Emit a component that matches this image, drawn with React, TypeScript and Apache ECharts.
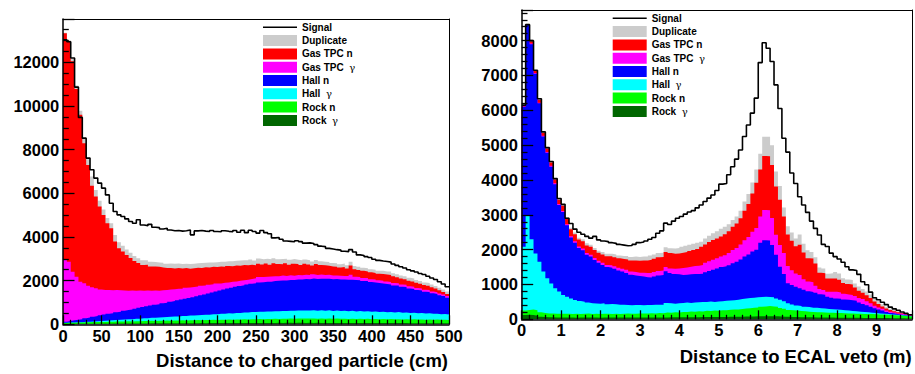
import React, { useEffect, useRef } from "react";
import * as echarts from "echarts";

// ---------- data: left panel (100 bins of 5 cm, 0–500 cm) ----------
const leftBinWidth = 5;
const leftRockGamma = [
  15, 18, 21, 20, 24, 25, 27, 26, 29, 30,
  31, 30, 33, 35, 34, 37, 38, 37, 40, 41,
  42, 41, 44, 45, 44, 47, 46, 48, 49, 50,
  49, 51, 52, 51, 53, 54, 53, 56, 55, 57,
  56, 58, 59, 57, 60, 61, 59, 62, 61, 63,
  62, 64, 63, 65, 64, 66, 65, 66, 67, 65,
  67, 66, 65, 66, 64, 66, 65, 63, 65, 63,
  64, 62, 63, 61, 62, 60, 61, 59, 60, 58,
  59, 57, 58, 56, 57, 55, 56, 54, 54, 52,
  53, 51, 51, 49, 50, 48, 48, 47, 46, 45,
];
const leftRockN = [
  45, 52, 50, 61, 58, 68, 66, 75, 71, 80,
  78, 88, 83, 90, 94, 89, 99, 95, 104, 100,
  110, 106, 116, 111, 119, 114, 124, 118, 128, 122,
  131, 126, 136, 130, 140, 134, 145, 137, 150, 141,
  152, 146, 157, 150, 162, 155, 168, 160, 172, 165,
  178, 170, 183, 175, 188, 180, 193, 186, 197, 190,
  203, 195, 206, 198, 204, 193, 205, 191, 200, 190,
  198, 187, 195, 186, 193, 181, 192, 180, 189, 177,
  186, 176, 184, 173, 182, 171, 180, 170, 178, 168,
  176, 166, 174, 163, 172, 161, 170, 160, 166, 155,
];
const leftHallGamma = [
  8, 10, 14, 18, 15, 20, 28, 32, 40, 45,
  55, 60, 66, 72, 80, 92, 98, 104, 110, 115,
  120, 128, 135, 140, 150, 158, 162, 175, 180, 185,
  195, 200, 212, 218, 225, 235, 240, 248, 256, 262,
  270, 278, 285, 290, 300, 305, 312, 318, 325, 330,
  335, 342, 338, 350, 345, 355, 350, 362, 355, 365,
  358, 370, 362, 368, 375, 360, 372, 365, 378, 362,
  370, 358, 368, 355, 365, 350, 360, 345, 352, 340,
  345, 335, 338, 325, 330, 318, 322, 310, 312, 300,
  302, 290, 292, 280, 282, 270, 268, 258, 255, 245,
];
const leftHallN = [
  50, 70, 95, 112, 135, 165, 185, 210, 235, 260,
  285, 310, 325, 355, 370, 400, 415, 445, 460, 500,
  520, 550, 565, 600, 610, 645, 660, 695, 710, 745,
  760, 795, 810, 845, 865, 905, 925, 970, 995, 1045,
  1075, 1115, 1135, 1175, 1195, 1235, 1245, 1280, 1295, 1325,
  1345, 1350, 1370, 1365, 1385, 1390, 1400, 1395, 1415, 1410,
  1425, 1420, 1440, 1435, 1455, 1460, 1450, 1470, 1445, 1455,
  1440, 1450, 1430, 1445, 1425, 1440, 1410, 1400, 1385, 1360,
  1330, 1320, 1295, 1290, 1260, 1235, 1215, 1185, 1160, 1125,
  1090, 1065, 1035, 1005, 975, 940, 905, 870, 825, 775,
];
const leftGasGamma = [
  2832, 2720, 2231, 1967, 1720, 1602, 1456, 1355, 1276, 1185,
  1122, 1085, 1059, 1023, 986, 928, 885, 863, 821, 790,
  743, 719, 675, 650, 611, 602, 578, 559, 534, 523,
  499, 499, 475, 470, 448, 437, 416, 405, 374, 361,
  322, 308, 285, 277, 248, 240, 230, 225, 221, 223,
  245, 238, 230, 235, 222, 215, 225, 208, 212, 200,
  205, 195, 200, 188, 192, 180, 186, 175, 178, 170,
  165, 170, 160, 168, 230, 150, 145, 140, 135, 130,
  128, 125, 120, 118, 115, 112, 110, 108, 105, 100,
  98, 95, 92, 90, 88, 85, 82, 80, 78, 75,
];
const leftGasN = [
  10390, 10090, 9640, 8600, 7650, 6420, 5540, 4650, 4200, 3800,
  3440, 3060, 2830, 2220, 1920, 1790, 1640, 1490, 1360, 1260,
  1180, 1180, 1110, 1100, 1100, 1040, 1005, 980, 955, 960,
  920, 905, 860, 850, 865, 820, 835, 790, 805, 760,
  770, 730, 755, 715, 730, 690, 700, 660, 660, 600,
  615, 575, 605, 540, 595, 555, 515, 575, 485, 540,
  505, 475, 505, 485, 410, 500, 445, 445, 415, 410,
  405, 375, 405, 345, 425, 340, 315, 325, 300, 315,
  305, 305, 305, 320, 320, 310, 270, 275, 250, 255,
  240, 235, 215, 210, 195, 195, 165, 145, 110, 95,
];
const leftDuplicate = [
  20, 60, 120, 160, 180, 200, 260, 420, 300, 260,
  250, 240, 230, 300, 280, 260, 250, 240, 230, 220,
  220, 210, 220, 210, 200, 210, 200, 210, 220, 200,
  210, 200, 220, 210, 200, 220, 210, 230, 200, 220,
  220, 230, 210, 230, 220, 240, 220, 230, 240, 220,
  230, 240, 220, 250, 230, 220, 240, 210, 230, 220,
  200, 210, 190, 200, 180, 190, 170, 160, 170, 160,
  160, 150, 160, 150, 170, 150, 150, 140, 150, 140,
  150, 140, 150, 140, 150, 140, 140, 130, 140, 130,
  140, 130, 130, 120, 130, 120, 120, 110, 110, 110,
];
const leftSignal = [
  13040, 12950, 12200, 10870, 9480, 8530, 7615, 7080, 6700, 6470,
  6240, 5930, 5550, 5170, 5015, 4940, 4830, 4710, 4630, 4790,
  4550, 4520, 4580, 4450, 4430, 4370, 4400, 4320, 4290, 4300,
  4270, 4290, 4320, 4100, 4280, 4300, 4270, 4250, 4300, 4250,
  4240, 4290, 4260, 4240, 4300, 4220, 4310, 4200, 4310, 4250,
  4180, 4300, 4200, 4150, 3960, 3980, 3900, 3820, 3800, 3780,
  3830, 3790, 3720, 3730, 3700, 3650, 3580, 3560, 3480, 3450,
  3420, 3400, 3350, 3330, 3420, 3310, 3180, 3150, 3100, 3060,
  2980, 2930, 2900, 2880, 2850, 2760, 2700, 2640, 2580, 2500,
  2450, 2400, 2330, 2280, 2200, 2120, 2050, 1950, 1850, 1720,
];

// ---------- data: right panel (99 bins of 0.1 m, 0–9.9 m) ----------
const rightBinWidth = 0.1;
const rightRockGamma = [
  120, 130, 120, 100,
  70, 65, 60, 60, 55, 55, 50,
  50, 50, 48, 50, 52, 50, 50, 50, 48, 50, 50, 52, 50, 50, 50, 52, 50, 50, 50, 52,
  52, 52, 54, 55, 55, 55, 58, 60, 60, 60, 60, 62, 62, 62, 64, 64, 65, 65, 66, 68,
  68, 70, 70, 72, 75, 78, 80, 82, 85, 88, 90, 90, 88, 85, 80,
  75, 70, 68, 65, 62, 60, 58, 56, 55, 54, 52, 50, 50, 48, 48,
  46, 45, 44, 42, 42, 40, 40, 38, 38, 36, 35, 34, 32, 30, 30, 28, 26, 24,
];
const rightRockN = [
  130, 140, 160, 160, 130, 115, 110, 110, 105, 105, 110, 110, 105,
  112, 100, 108, 115, 104, 110, 106, 112, 108, 100, 110, 105, 108, 112, 106, 110, 115, 112,
  118, 125, 115, 128, 122, 138, 130, 142, 136, 152, 146, 160, 155, 170, 162, 178, 172, 188, 180, 195,
  190, 204, 208, 212, 222, 235, 238, 250, 252, 275, 278, 292, 280, 276, 248,
  225, 200, 192, 185, 178, 170, 162, 154, 145, 146, 143, 140, 135, 132, 132,
  129, 125, 121, 118, 118, 115, 110, 112, 107, 104, 100, 96, 93, 85, 80, 72, 64, 56,
];
const rightHallGamma = [
  1835, 2700, 2020, 1630, 1450, 1190, 1005, 860, 730, 635, 540, 490, 445,
  395, 375, 345, 315, 306, 295, 296, 298, 272, 288, 270, 265, 262, 246, 244, 250, 245, 236,
  240, 233, 251, 237, 243, 277, 272, 248, 264, 258, 274, 248, 263, 258, 274, 258, 273, 247, 264, 257,
  272, 266, 272, 276, 283, 287, 292, 288, 293, 277, 282, 258, 262, 239, 232,
  220, 192, 165, 148, 142, 128, 134, 125, 132, 118, 117, 108, 106, 98, 92,
  85, 80, 75, 70, 60, 55, 50, 40, 35, 30, 25, 20, 15, 15, 10, 10, 10, 10,
];
const rightHallN = [
  4015, 5480, 5600, 5160, 4550, 3880, 3605, 3350, 2990, 2485, 2380, 2050, 1750,
  1645, 1525, 1475, 1370, 1340, 1245, 1170, 1100, 1070, 1040, 1020, 980, 950, 920, 880, 850, 830, 830,
  800, 790, 810, 840, 850, 910, 870, 850, 830, 800, 800, 820, 820, 810, 810, 850, 880, 920, 950, 980,
  990, 1010, 1060, 1090, 1140, 1200, 1250, 1330, 1370, 1560, 1620, 1620, 1500, 1250, 950,
  780, 570, 560, 540, 510, 490, 450, 450, 430, 400, 390, 350, 330, 320, 320,
  310, 310, 310, 300, 260, 230, 200, 170, 140, 110, 90, 60, 40, 30, 20, 15, 10, 5,
];
const rightGasGamma = [
  10, 10, 20, 20, 20, 20, 25, 25, 25, 30, 30, 30, 35,
  40, 40, 50, 50, 50, 60, 60, 60, 60, 70, 70, 80, 80, 90, 90, 100, 100, 110,
  120, 130, 130, 130, 130, 120, 130, 150, 170, 200, 210, 220, 230, 240, 250, 270, 280, 290, 290, 300,
  320, 350, 380, 400, 430, 470, 500, 560, 620, 750, 870, 870, 780, 580, 620,
  600, 500, 420, 380, 380, 300, 280, 280, 200, 150, 140, 140, 170, 190, 180,
  160, 150, 150, 140, 130, 140, 120, 100, 70, 60, 50, 45, 40, 35, 30, 25, 20, 15,
];
const rightGasN = [
  20, 20, 60, 60, 80, 80, 100, 100, 110, 120, 150, 170, 200,
  200, 200, 210, 220, 230, 230, 230, 240, 250, 260, 260, 270, 280, 300, 320, 330, 340, 350,
  360, 380, 380, 390, 390, 430, 440, 430, 430, 440, 440, 450, 460, 480, 520, 530, 550, 570, 570, 580,
  600, 630, 670, 700, 750, 850, 950, 1100, 1300, 1350, 1550, 1550, 1520, 1380, 1300,
  1050, 900, 850, 780, 870, 770, 670, 680, 640, 470, 480, 380, 380, 380, 360,
  310, 300, 300, 240, 210, 180, 170, 150, 120, 100, 70, 55, 45, 35, 30, 25, 20, 15,
];
const rightDuplicate = [
  5, 5, 20, 20, 30, 30, 30, 30, 30, 30, 40, 40, 40,
  50, 50, 60, 60, 60, 60, 60, 70, 70, 70, 80, 80, 90, 100, 100, 110, 110, 110,
  110, 120, 120, 120, 120, 140, 140, 150, 160, 170, 180, 180, 180, 180, 150, 170, 180, 190, 210, 220,
  220, 200, 190, 200, 220, 260, 290, 320, 380, 450, 550, 560, 570, 430, 400,
  260, 240, 240, 220, 290, 250, 230, 190, 180, 150, 140, 140, 150, 190, 180,
  140, 130, 130, 120, 120, 110, 110, 100, 110, 90, 60, 50, 40, 35, 30, 25, 20, 10,
];
const rightSignal = [
  6150, 8460, 8000, 7150, 6330, 5380, 4930, 4530, 4040, 3470, 3300, 2900, 2750,
  2590, 2500, 2440, 2380, 2330, 2380, 2280, 2250, 2230, 2200, 2180, 2150, 2130, 2110, 2120, 2150, 2200, 2220,
  2250, 2300, 2350, 2470, 2540, 2760, 2720, 2820, 2900, 2950, 3020, 3080, 3120, 3200, 3280, 3380, 3480, 3570, 3700, 3880,
  3900, 4150, 4380, 4600, 4860, 5250, 5580, 5920, 6350, 7370, 7940, 7780, 7400, 6730, 6050,
  5200, 4800, 4200, 3900, 3520, 3280, 3070, 2820, 2610, 2420, 2150, 2090, 1900, 1800, 1730,
  1640, 1510, 1420, 1400, 1290, 1080, 990, 780, 620, 560, 490, 420, 350, 300, 260, 210, 170, 130,
];

// ---------- names, colours ----------
const layerNames = ["Rock γ", "Rock n", "Hall γ", "Hall n", "Gas TPC γ", "Gas TPC n", "Duplicate"];
const layerColors = ["#006600", "#00ff00", "#00ffff", "#0000ff", "#ff00ff", "#ff0000", "#cccccc"];
const legendOrder = ["Signal", "Duplicate", "Gas TPC n", "Gas TPC γ", "Hall n", "Hall γ", "Rock n", "Rock γ"];
const leftTitle = "Distance to charged particle (cm)";
const rightTitle = "Distance to ECAL veto (m)";

const FONT = "'Liberation Sans', Arial, Helvetica, sans-serif";

function steps(values: number[], w: number) {
  const pts = values.map((v, i) => [Math.round(i * w * 1000) / 1000, v]);
  pts.push([Math.round(values.length * w * 1000) / 1000, values[values.length - 1]]);
  return pts;
}

function panelSeries(layers: number[][], signal: number[], w: number, idx: number) {
  const tops: number[][] = [];
  layers.forEach((layer, k) => {
    tops.push(layer.map((v, i) => v + (k > 0 ? tops[k - 1][i] : 0)));
  });
  const series: any[] = [];
  for (let k = layers.length - 1; k >= 0; k--) {
    series.push({
      type: "line",
      name: layerNames[k],
      xAxisIndex: idx,
      yAxisIndex: idx,
      data: steps(tops[k], w),
      step: "end",
      symbol: "none",
      showSymbol: false,
      color: layerColors[k],
      itemStyle: { color: layerColors[k] },
      lineStyle: { width: 0, color: layerColors[k] },
      areaStyle: { color: layerColors[k], opacity: 1 },
      silent: true,
      emphasis: { disabled: true },
      z: 2,
    });
  }
  series.push({
    type: "line",
    name: "Signal",
    xAxisIndex: idx,
    yAxisIndex: idx,
    data: steps(signal, w),
    step: "end",
    symbol: "none",
    showSymbol: false,
    color: "#000",
    itemStyle: { color: "#000" },
    lineStyle: { width: 1.6, color: "#000" },
    silent: true,
    emphasis: { disabled: true },
    z: 3,
  });
  return series;
}

const plainNumber = (v: number) => String(Math.round(v * 1000) / 1000);

const labelStyle = (margin: number) => ({
  color: "#000",
  fontFamily: FONT,
  fontWeight: "bold",
  fontSize: 16.5,
  margin,
  formatter: plainNumber,
});

function mainXAxis(grid: number, max: number, interval: number, minorSplit: number, margin: number, hideMax: boolean) {
  return {
    gridIndex: grid,
    type: "value",
    min: 0,
    max,
    interval,
    z: 10,
    axisLine: { show: true, onZero: false, lineStyle: { color: "#000", width: 1.5 } },
    axisTick: { show: true, inside: true, length: 9, lineStyle: { color: "#000", width: 1.3 } },
    minorTick: { show: true, splitNumber: minorSplit, length: 4.5, lineStyle: { color: "#000", width: 1.3 } },
    axisLabel: { ...labelStyle(margin), showMaxLabel: !hideMax },
    splitLine: { show: false },
    minorSplitLine: { show: false },
  };
}

function mainYAxis(grid: number, max: number, interval: number, minorSplit: number) {
  return {
    gridIndex: grid,
    type: "value",
    min: 0,
    max,
    interval,
    z: 10,
    axisLine: { show: true, onZero: false, lineStyle: { color: "#000", width: 1.5 } },
    axisTick: { show: true, inside: true, length: 11.5, lineStyle: { color: "#000", width: 1.3 } },
    minorTick: { show: true, splitNumber: minorSplit, length: 5.8, lineStyle: { color: "#000", width: 1.3 } },
    axisLabel: { ...labelStyle(3.7), showMaxLabel: false },
    splitLine: { show: false },
    minorSplitLine: { show: false },
  };
}

function frameAxis(grid: number, position: string) {
  return {
    gridIndex: grid,
    type: "value",
    position,
    min: 0,
    max: 1,
    z: 10,
    axisLine: { show: true, onZero: false, lineStyle: { color: "#000", width: 1 } },
    axisTick: { show: false },
    axisLabel: { show: false },
    splitLine: { show: false },
  };
}

function legendFor(left: number, top: number) {
  return {
    orient: "vertical",
    left,
    top,
    padding: 0,
    itemWidth: 34,
    itemHeight: 11,
    itemGap: 2.3,
    selectedMode: false,
    itemStyle: { borderWidth: 0 },
    data: legendOrder.map((n) =>
      n === "Signal" ? { name: n, icon: "path://M0,0h34v1.6h-34z" } : { name: n, icon: "rect" }
    ),
    formatter: (name: string) => (name.endsWith("γ") ? name.slice(0, -1) + " {g|γ}" : name),
    textStyle: {
      color: "#000",
      fontFamily: FONT,
      fontWeight: "bold",
      fontSize: 10,
      lineHeight: 11,
      rich: {
        g: { fontFamily: "'DejaVu Serif', serif", fontWeight: "normal", fontSize: 10, lineHeight: 11, color: "#000" },
      },
    },
  };
}

export default function App() {
  const ref = useRef<HTMLDivElement>(null);

  useEffect(() => {
    if (!ref.current) return;
    const chart = echarts.init(ref.current, undefined, { renderer: "svg" });
    const leftLayers = [leftRockGamma, leftRockN, leftHallGamma, leftHallN, leftGasGamma, leftGasN, leftDuplicate];
    const rightLayers = [rightRockGamma, rightRockN, rightHallGamma, rightHallN, rightGasGamma, rightGasN, rightDuplicate];
    const option: any = {
      animation: false,
      backgroundColor: "#fff",
      grid: [
        { left: 63, top: 19, width: 386, height: 305.3, containLabel: false },
        { left: 521.7, top: 10, width: 390.3, height: 309.3, containLabel: false },
      ],
      xAxis: [
        mainXAxis(0, 500, 50, 5, 3, false),
        mainXAxis(1, 9.9, 1, 5, 2.5, true),
        frameAxis(0, "top"),
        frameAxis(1, "top"),
      ],
      yAxis: [
        mainYAxis(0, 13990, 2000, 4),
        mainYAxis(1, 8880, 1000, 5),
        frameAxis(0, "right"),
        frameAxis(1, "right"),
      ],
      legend: [legendFor(263, 21.8), legendFor(612.7, 12.8)],
      graphic: [
        {
          type: "text",
          x: 448,
          y: 360.7,
          style: {
            text: leftTitle,
            fill: "#000",
            fontFamily: FONT,
            fontWeight: "bold",
            fontSize: 18.5,
            align: "right",
            verticalAlign: "middle",
          },
        },
        {
          type: "text",
          x: 911.7,
          y: 356,
          style: {
            text: rightTitle,
            fill: "#000",
            fontFamily: FONT,
            fontWeight: "bold",
            fontSize: 18.5,
            align: "right",
            verticalAlign: "middle",
          },
        },
      ],
      series: [
        ...panelSeries(leftLayers, leftSignal, leftBinWidth, 0),
        ...panelSeries(rightLayers, rightSignal, rightBinWidth, 1),
      ],
    };
    chart.setOption(option);
    return () => chart.dispose();
  }, []);

  return (
    <div
      ref={ref}
      style={{ position: "absolute", left: 0, top: 0, width: 915, height: 374, background: "#fff" }}
    />
  );
}
